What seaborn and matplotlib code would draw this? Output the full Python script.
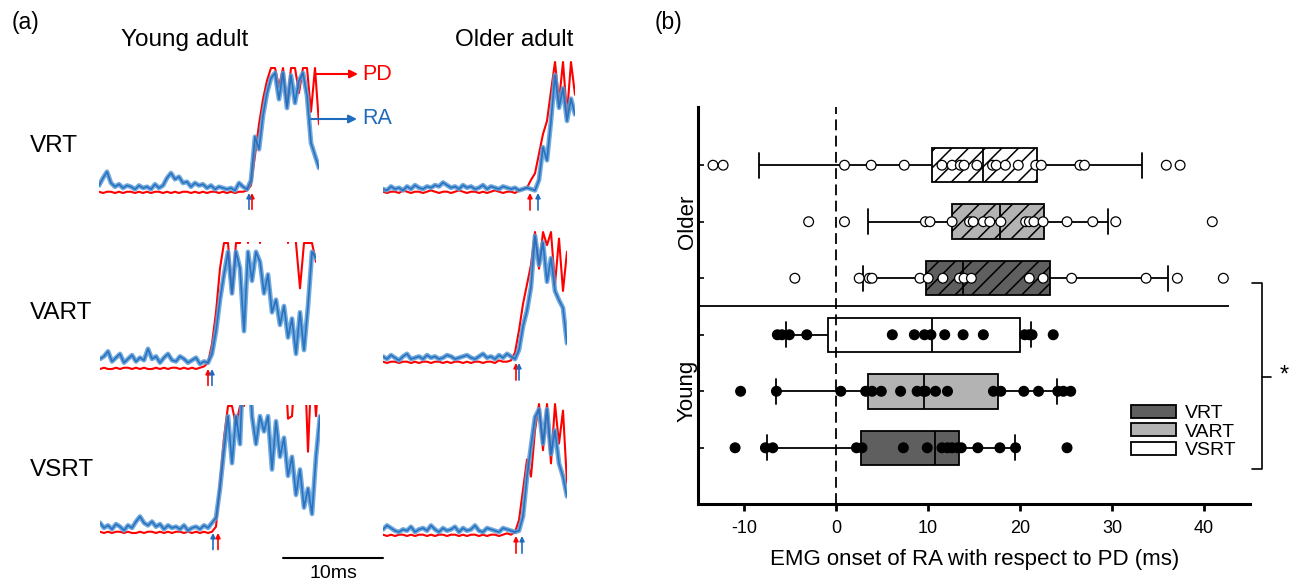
import numpy as np
import pandas as pd
import matplotlib
matplotlib.use("Agg")
import matplotlib.pyplot as plt
import matplotlib.transforms as mtransforms
from matplotlib.patches import Patch
import seaborn as sns

W, H = 1297, 585

# ---------------- panel (a): EMG traces (percent of full scale, 0.4 ms/sample) ----------------
SAMPLE_MS = 0.4

pd_young_vrt = [1, 0, 1, 1, 0, 1, 0, 1, 1, 0, 1, 0, 1, 0, 1, 1, 0, 1, 0, 1,
                0, 1, 1, 0, 1, 0, 1, 0, 1, 1, 0, 1, 0, 1, 0, 1, 1, 2,
                6, 30, 55, 75, 90, 100, 100, 85, 100, 70, 100, 100, 80, 100, 100, 65, 100, 55]
ra_young_vrt = [6, 12, 17, 8, 5, 7, 4, 6, 5, 3, 6, 4, 5, 3, 7, 4, 6, 12, 16, 11,
                13, 8, 9, 5, 8, 6, 7, 4, 6, 3, 5, 4, 3, 4, 2, 8, 5, 3,
                10, 45, 35, 62, 80, 92, 96, 75, 96, 68, 94, 72, 90, 96, 78, 40, 30, 20]

pd_young_vart = [0, 1, 0, 0, 1, 0, 1, 1, 0, 1, 0, 1, 0, 0, 1, 0, 1, 0, 1, 1,
                 0, 1, 0, 1, 0, 1, 2,
                 5, 20, 45, 80, 100, 100, 60, 100, 100, 140, 100, 140, 150, 100,
                 140, 150, 140, 130, 150, 140, 100, 140, 100, 64, 100, 100, 100, 85]
ra_young_vart = [8, 10, 14, 6, 9, 12, 5, 8, 11, 6, 9, 7, 16, 8, 10, 5, 9, 12, 7, 6,
                 10, 8, 5, 7, 9, 4, 6,
                 5, 12, 30, 55, 75, 93, 60, 93, 80, 30, 93, 70, 93, 85,
                 60, 75, 45, 55, 35, 50, 25, 40, 12, 45, 15, 50, 93, 88]

pd_young_vsrt = [1, 0, 1, 0, 1, 1, 0, 1, 0, 0, 1, 0, 1, 1, 0, 1, 0, 1, 0, 1,
                 1, 0, 1, 0, 1, 0, 1, 0, 1,
                 5, 40, 75, 100, 100, 85, 100, 100, 150, 150, 150, 140, 150, 140,
                 150, 150, 140, 150, 90, 92, 140, 140, 150, 64, 140, 92, 140]
ra_young_vsrt = [8, 4, 6, 3, 7, 5, 2, 6, 4, 9, 13, 8, 6, 9, 5, 7, 3, 6, 4, 5,
                 3, 6, 2, 4, 5, 3, 6, 4, 8,
                 12, 35, 65, 92, 55, 92, 70, 150, 150, 92, 70, 92, 80, 92,
                 50, 88, 60, 75, 45, 60, 30, 50, 20, 35, 15, 60, 92]

pd_older_vrt = [1, 0, 1, 1, 0, 2, 1, 0, 1, 1, 0, 1, 2, 1, 0, 1, 1, 0, 1, 2,
                1, 0, 1, 1, 0, 1, 0, 1, 2, 1, 0, 1, 1, 0, 2, 3,
                4, 10, 15, 30, 45, 55, 78, 100, 70, 100, 60, 100, 75]
ra_older_vrt = [3, 2, 5, 3, 4, 2, 5, 3, 6, 4, 3, 5, 4, 6, 5, 8, 6, 4, 5, 3,
                6, 4, 5, 3, 4, 6, 3, 5, 4, 3, 5, 4, 3, 4, 2, 3, 4, 3, 2,
                10, 35, 25, 55, 90, 65, 80, 55, 72, 60]

pd_older_vart = [1, 0, 1, 1, 0, 1, 1, 0, 1, 0, 1, 1, 0, 1, 1, 0, 1, 0, 1, 1,
                 0, 1, 0, 1, 1, 0, 1, 1, 0, 2, 1, 1, 2,
                 8, 25, 45, 60, 75, 100, 72, 100, 90, 100, 60, 95, 55, 85]
ra_older_vart = [5, 3, 6, 4, 2, 5, 7, 3, 4, 5, 3, 6, 4, 5, 3, 4, 6, 5, 3, 4,
                 5, 6, 4, 3, 5, 7, 4, 5, 3, 6, 4, 7, 5, 3,
                 10, 28, 40, 58, 97, 75, 92, 62, 80, 55, 48, 42, 15]

pd_older_vsrt = [1, 0, 1, 0, 1, 1, 0, 1, 0, 1, 1, 0, 1, 0, 1, 1, 0, 1, 1, 0,
                 1, 0, 1, 1, 0, 1, 0, 1, 1, 0, 1, 2, 1, 3,
                 12, 35, 58, 45, 80, 100, 65, 100, 55, 100, 70, 95, 40]
ra_older_vsrt = [5, 8, 6, 4, 3, 5, 4, 7, 3, 5, 6, 4, 8, 5, 3, 6, 4, 5, 7, 3,
                 6, 4, 5, 8, 4, 3, 6, 5, 4, 3, 6, 5, 4, 3, 4,
                 15, 45, 68, 90, 96, 70, 96, 62, 80, 55, 45, 30]

# onset marks (ms from trace start): young VRT, VART, VSRT, older VRT, VART, VSRT
onset_pd_ms = [15.3, 10.8, 11.8, 14.7, 13.3, 13.3]
onset_ra_ms = [15.0, 11.2, 11.3, 15.5, 13.6, 13.9]

# ---------------- panel (b): onset differences (ms) ----------------
ROWS = ["Older VSRT", "Older VART", "Older VRT", "Young VSRT", "Young VART", "Young VRT"]
ROW_TASK = ["VSRT", "VART", "VRT", "VSRT", "VART", "VRT"]
ROW_GROUP = ["Older", "Older", "Older", "Young", "Young", "Young"]
TASKS = ["VRT", "VART", "VSRT"]

whisker_lo = [-8.4, 3.5, 2.9, -5.5, -6.5, -7.5]
quartile_1 = [10.4, 12.6, 9.8, -0.9, 3.5, 2.7]
medians = [16.0, 17.8, 13.8, 10.4, 9.5, 10.7]
quartile_3 = [21.8, 22.6, 23.3, 20.0, 17.6, 13.4]
whisker_hi = [33.3, 29.6, 36.1, 21.2, 24.0, 19.4]

older_vsrt = [-13.4, -12.3, 0.9, 3.8, 7.4, 11.5, 12.6, 13.5, 13.9, 15.3, 17.0, 17.4,
              18.4, 19.8, 21.7, 22.3, 26.5, 27.0, 35.9, 37.4]
older_vart = [-3.0, 0.9, 9.7, 10.2, 12.6, 14.5, 14.9, 16.0, 16.7, 17.9, 20.6, 21.0,
              21.5, 22.5, 25.1, 27.9, 30.4, 40.9]
older_vrt = [-4.5, 2.5, 3.6, 3.9, 9.1, 10.0, 11.6, 13.4, 13.9, 14.7, 21.0, 22.5,
             25.6, 33.7, 37.1, 42.1]
young_vsrt = [-6.4, -5.9, -5.1, -3.2, 6.1, 8.5, 9.6, 10.3, 11.8, 13.8, 16.0, 20.5,
              21.0, 21.3, 23.6]
young_vart = [-10.4, -6.5, 0.5, 3.2, 3.9, 4.9, 7.0, 8.8, 9.5, 9.7, 10.8, 12.1, 17.1,
              17.9, 20.4, 22.0, 24.1, 24.7, 25.5]
young_vrt = [-11.0, -7.7, -6.9, 2.2, 2.8, 7.3, 9.9, 11.5, 12.1, 12.6, 13.2, 13.6,
             15.4, 17.8, 19.5, 25.1]


def px_axes(fig, left, top, width, height):
    return fig.add_axes([left / W, 1 - (top + height) / H, width / W, height / H])


def main() -> None:
    sns.set_style("white")
    plt.rcParams["font.family"] = ["Liberation Sans", "DejaVu Sans"]
    plt.rcParams["hatch.linewidth"] = 1.1
    plt.rcParams["axes.unicode_minus"] = False
    for key in ("text.color", "axes.labelcolor", "xtick.color", "ytick.color"):
        plt.rcParams[key] = "black"

    fig = plt.figure(figsize=(W / 100, H / 100), dpi=100)

    # ---------- panel (a) ----------
    traces = [
        (pd_young_vrt, ra_young_vrt), (pd_young_vart, ra_young_vart),
        (pd_young_vsrt, ra_young_vsrt), (pd_older_vrt, ra_older_vrt),
        (pd_older_vart, ra_older_vart), (pd_older_vsrt, ra_older_vsrt),
    ]
    x0_px = [99, 100, 100, 383, 383, 383]
    base_px = [193, 369, 533, 193, 363, 536]
    top_px = [68, 243, 406, 62, 232, 404]
    y_lo, y_hi = -0.15, 1.01

    trace_axes = []
    for k, (pd_v, ra_v) in enumerate(traces):
        n = len(pd_v)
        t = np.arange(n) * SAMPLE_MS
        rng = base_px[k] - top_px[k]
        ax = px_axes(fig, x0_px[k], base_px[k] - y_hi * rng,
                     (n - 1) * SAMPLE_MS * 10, (y_hi - y_lo) * rng)
        sns.lineplot(x=t, y=np.array(pd_v) / 100, color="#ff0000", lw=1.5,
                     estimator=None, sort=False, ax=ax)
        sns.lineplot(x=t, y=np.array(ra_v) / 100, color="#5b9bd5", lw=3.4, alpha=0.85,
                     estimator=None, sort=False, ax=ax)
        sns.lineplot(x=t, y=np.array(ra_v) / 100, color="#1f6cbf", lw=1.2, alpha=0.9,
                     estimator=None, sort=False, ax=ax)
        ax.set_xlim(0, t[-1])
        ax.set_ylim(y_lo, y_hi)
        ax.set_axis_off()
        for t_on, col in ((onset_pd_ms[k], "#ff0000"), (onset_ra_ms[k], "#1f6cbf")):
            ax.annotate("", xy=(t_on, 0.0), xytext=(t_on, -0.13),
                        arrowprops=dict(arrowstyle="-|>", color=col, lw=1.2,
                                        mutation_scale=7, shrinkA=0, shrinkB=0),
                        annotation_clip=False)
        trace_axes.append(ax)

    # scale bar: 10 ms in trace units
    ax_sb = trace_axes[2]
    ax_sb.plot([18.3, 28.3], [-0.2, -0.2], color="black", lw=1.5, clip_on=False)
    ax_sb.text(23.3, -0.25, "10ms", ha="center", va="top", fontsize=14, clip_on=False)

    # PD / RA labels
    fig.add_artist(plt.Annotation("", xy=(358, H - 74), xytext=(315, H - 74),
                                  xycoords="figure pixels", textcoords="figure pixels",
                                  arrowprops=dict(arrowstyle="-|>", color="#ff0000", lw=1.5,
                                                  mutation_scale=12, shrinkA=0, shrinkB=0)))
    fig.add_artist(plt.Annotation("", xy=(357, H - 119), xytext=(311, H - 119),
                                  xycoords="figure pixels", textcoords="figure pixels",
                                  arrowprops=dict(arrowstyle="-|>", color="#1f6cbf", lw=1.5,
                                                  mutation_scale=12, shrinkA=0, shrinkB=0)))
    fig.text(362 / W, 1 - 74 / H, "PD", color="#ff0000", fontsize=15.5, ha="left", va="center")
    fig.text(362 / W, 1 - 119 / H, "RA", color="#1f6cbf", fontsize=15.5, ha="left", va="center")

    fig.text(25 / W, 1 - 22 / H, "(a)", fontsize=16.5, ha="center", va="center")
    fig.text(185 / W, 1 - 40 / H, "Young adult", fontsize=17.5, ha="center", va="center")
    fig.text(514 / W, 1 - 40 / H, "Older adult", fontsize=17.5, ha="center", va="center")
    for label, y in zip(["VRT", "VART", "VSRT"], [146, 313, 470]):
        fig.text(30 / W, 1 - y / H, label, fontsize=17.5, ha="left", va="center")

    # ---------- panel (b) ----------
    box_df = pd.DataFrame({
        "row": np.repeat(ROWS, 5),
        "task": np.repeat(ROW_TASK, 5),
        "value": np.column_stack([whisker_lo, quartile_1, medians,
                                  quartile_3, whisker_hi]).ravel(),
    })
    point_lists = [older_vsrt, older_vart, older_vrt, young_vsrt, young_vart, young_vrt]
    pts_df = pd.DataFrame({
        "row": np.concatenate([[r] * len(v) for r, v in zip(ROWS, point_lists)]),
        "group": np.concatenate([[g] * len(v) for g, v in zip(ROW_GROUP, point_lists)]),
        "value": np.concatenate(point_lists),
    })
    task_colors = {"VRT": "#5f5f5f", "VART": "#b3b3b3", "VSRT": "#ffffff"}

    ax_b = px_axes(fig, 698.3, 107, 1250 - 698.3, 504.3 - 107)
    sns.boxplot(data=box_df, x="value", y="row", order=ROWS, hue="task",
                hue_order=TASKS, palette=task_colors, dodge=False, width=0.61,
                whis=(0, 100), showfliers=False, linecolor="black", linewidth=1.3,
                legend=False, ax=ax_b)
    for patch in ax_b.patches:
        verts = patch.get_path().vertices
        if verts[:, 1].mean() < 2.5:
            patch.set_hatch("//")
    for line in ax_b.lines:
        xd, yd = np.asarray(line.get_xdata()), np.asarray(line.get_ydata())
        if len(xd) == 2 and np.isclose(xd[0], xd[1]) and abs(yd[1] - yd[0]) < 0.45:
            c = yd.mean()
            line.set_ydata([c - 0.22, c + 0.22])

    sns.stripplot(data=pts_df, x="value", y="row", order=ROWS, hue="group",
                  palette={"Older": "white", "Young": "black"}, jitter=False, size=7,
                  edgecolor="black", linewidth=0.9, legend=False, zorder=3, ax=ax_b)

    ax_b.axvline(0, color="black", lw=1.3, ls=(0, (6, 3)), zorder=2.5)
    ax_b.hlines(2.5, -15, 42.75, color="black", lw=1.3, clip_on=False)
    ax_b.plot([45.2, 46.35, 46.35, 45.2], [2.09, 2.09, 5.375, 5.375],
              color="black", lw=1.2, clip_on=False)
    ax_b.plot([46.35, 47.3], [3.74, 3.74], color="black", lw=1.2, clip_on=False)
    ax_b.text(48.7, 3.72, "*", fontsize=17, ha="center", va="center", clip_on=False)

    ax_b.set_xlim(-15, 45)
    ax_b.set_ylim(6.0, -1.03)
    ax_b.set_xticks([-10, 0, 10, 20, 30, 40])
    ax_b.set_yticks(range(6))
    ax_b.set_yticklabels([])
    ax_b.tick_params(axis="x", direction="out", length=5, width=2, labelsize=13,
                     pad=6, bottom=True)
    ax_b.tick_params(axis="y", direction="in", length=4, width=1.2, left=True)
    ax_b.set_xlabel("EMG onset of RA with respect to PD (ms)", fontsize=16, labelpad=9)
    ax_b.set_ylabel("")
    for side in ("top", "right"):
        ax_b.spines[side].set_visible(False)
    for side in ("left", "bottom"):
        ax_b.spines[side].set_linewidth(2.2)
        ax_b.spines[side].set_color("black")

    blend = mtransforms.blended_transform_factory(ax_b.transAxes, ax_b.transData)
    ax_b.text(-0.02, 1, "Older", transform=blend, rotation=90, fontsize=16,
              ha="center", va="center")
    ax_b.text(-0.02, 4, "Young", transform=blend, rotation=90, fontsize=16,
              ha="center", va="center")

    handles = [Patch(facecolor=task_colors[t], edgecolor="black", linewidth=1.3, label=t)
               for t in TASKS]
    ax_b.legend(handles=handles, loc="upper left", bbox_to_anchor=(1131 / W, 1 - 405 / H),
                bbox_transform=fig.transFigure, frameon=False, fontsize=14,
                handlelength=2.3, handleheight=0.65, handletextpad=0.45,
                labelspacing=0.05, borderpad=0, borderaxespad=0)

    fig.text(668 / W, 1 - 22 / H, "(b)", fontsize=16.5, ha="center", va="center")

    fig.savefig("out.png", dpi=100, facecolor="white")


if __name__ == "__main__":
    main()
